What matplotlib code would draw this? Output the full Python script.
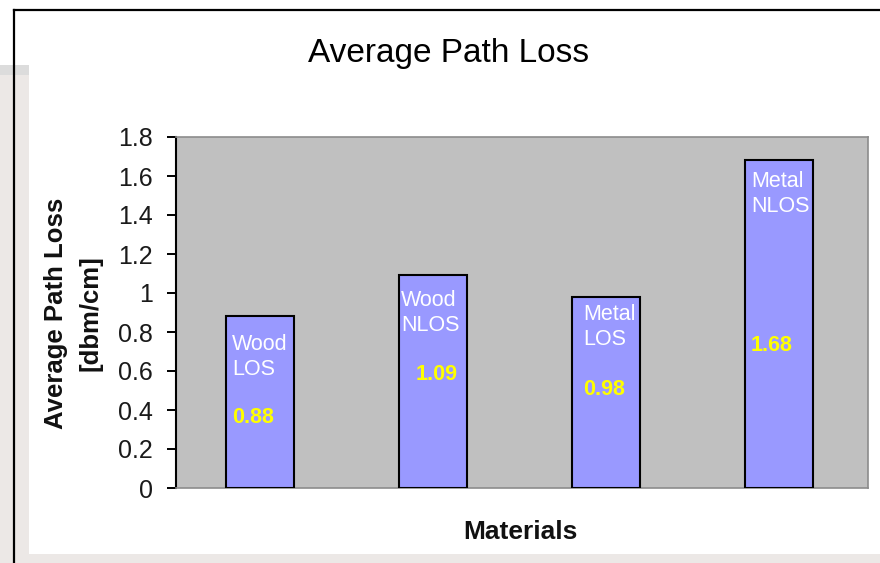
import matplotlib
matplotlib.use("Agg")
import matplotlib.pyplot as plt
from matplotlib.patches import Rectangle
from matplotlib.lines import Line2D

# ---- data ----
categories = ["Wood\nLOS", "Wood\nNLOS", "Metal\nLOS", "Metal\nNLOS"]
values = [0.88, 1.09, 0.98, 1.68]
value_labels = ["0.88", "1.09", "0.98", "1.68"]
yticks = [0, 0.2, 0.4, 0.6, 0.8, 1.0, 1.2, 1.4, 1.6, 1.8]
ytick_labels = ["0", "0.2", "0.4", "0.6", "0.8", "1", "1.2", "1.4", "1.6", "1.8"]

# label placement (x offset from bar centre, first-line baseline in data units)
name_dx = [-0.162, -0.185, -0.133, -0.162]
name_y = [0.708, 0.933, 0.862, 1.544]
val_dx = [-0.162, -0.098, -0.133, -0.162]
val_y = [0.333, 0.554, 0.477, 0.703]
line_step = 0.13

W, H = 880, 563
fig = plt.figure(figsize=(W / 100, H / 100), dpi=100)
fig.patch.set_facecolor("white")
FONT = "Liberation Sans"

# slide background bits
bg = "#ECE8E6"
fig.add_artist(Rectangle((0, 0), 29 / W, (H - 65) / H, transform=fig.transFigure,
                         facecolor=bg, edgecolor="none", zorder=0))
fig.add_artist(Rectangle((0, 0), 1, 9 / H, transform=fig.transFigure,
                         facecolor=bg, edgecolor="none", zorder=0))
fig.add_artist(Rectangle((0, (H - 75) / H), 29 / W, 10 / H, transform=fig.transFigure,
                         facecolor="#DCDCDC", edgecolor="none", zorder=0))
# black frame lines
fig.add_artist(Line2D([14 / W, 14 / W], [0, (H - 10) / H], transform=fig.transFigure,
                      color="black", lw=1.6, zorder=1))
fig.add_artist(Line2D([14 / W, 1], [(H - 10) / H, (H - 10) / H], transform=fig.transFigure,
                      color="black", lw=1.6, zorder=1))

left, right, top, bottom = 176, 868, 137, 488
ax = fig.add_axes([left / W, (H - bottom) / H, (right - left) / W, (bottom - top) / H])
ax.set_facecolor("#C0C0C0")

x = list(range(len(values)))
ax.bar(x, values, width=0.393, color="#9999FF", edgecolor="black", linewidth=1.5, zorder=3)

ax.set_xlim(-0.4855, 3.514)
ax.set_ylim(0, 1.8)
ax.set_yticks(yticks)
ax.set_yticklabels(ytick_labels, fontsize=18, family=FONT, color="#1a1a1a")
ax.set_xticks([])
ax.tick_params(axis="y", direction="out", length=6.5, width=1.4, pad=10, color="black")

for s in ["top", "right", "bottom"]:
    ax.spines[s].set_color("#8c8c8c")
    ax.spines[s].set_linewidth(1.2)
ax.spines["left"].set_color("black")
ax.spines["left"].set_linewidth(1.5)

for i in x:
    for k, line in enumerate(categories[i].split("\n")):
        ax.text(i + name_dx[i], name_y[i] - k * line_step, line, color="white",
                fontsize=15.5, family=FONT, ha="left", va="baseline", zorder=4)
    ax.text(i + val_dx[i], val_y[i], value_labels[i], color="#FFFF00", fontsize=15.5,
            family=FONT, fontweight="bold", ha="left", va="baseline", zorder=4)

fig.text(448.5 / W, (H - 62) / H, "Average Path Loss", fontsize=24, family=FONT,
         ha="center", va="baseline", color="black")
fig.text(73 / W, (H - 313.5) / H, "Average Path Loss\n[dbm/cm]", fontsize=18.5,
         family=FONT, fontweight="bold", rotation=90, ha="center", va="center",
         multialignment="center", linespacing=1.55, color="#111111")
fig.text(520 / W, (H - 539) / H, "Materials", fontsize=19, family=FONT,
         fontweight="bold", ha="center", va="baseline", color="#111111")

fig.savefig("out.png", dpi=100, facecolor=fig.get_facecolor())
